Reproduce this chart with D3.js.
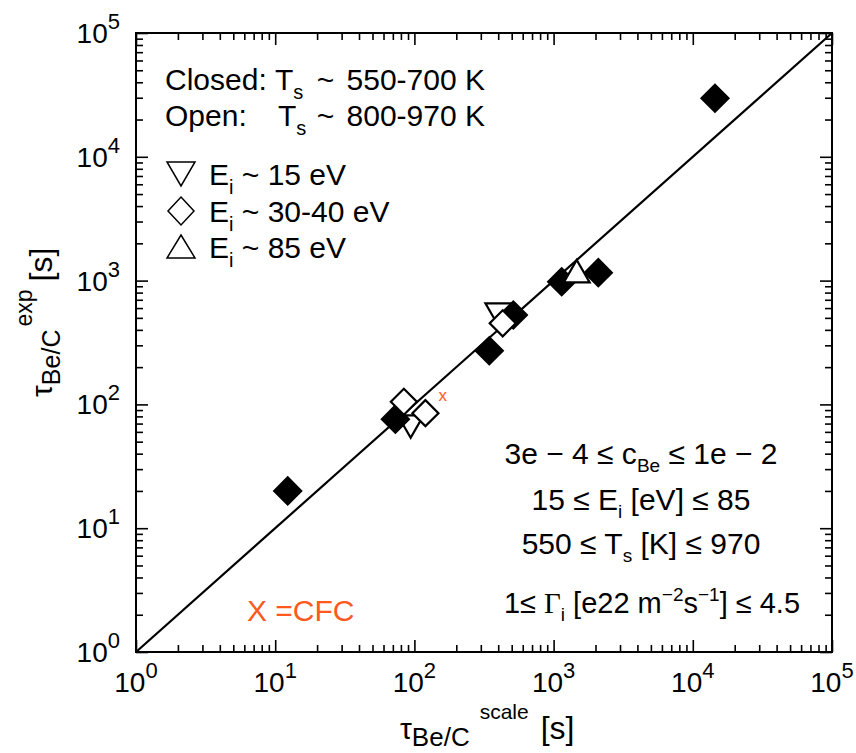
<!DOCTYPE html>
<html>
<head>
<meta charset="utf-8">
<script src="https://cdn.jsdelivr.net/npm/d3@7"></script>
<style>
  html, body { margin: 0; padding: 0; background: #fff; }
  svg { display: block; }
  text { font-family: "Liberation Sans", Arial, Helvetica, sans-serif; fill: #000; white-space: pre; }
</style>
</head>
<body>
<svg id="chart" width="856" height="753"></svg>
<script>
// Be/C mixed-layer formation time: scaling law vs experiment, [x = tau_scale (s), y = tau_exp (s)]
const closedDiamonds    = [[12.3, 20], [73, 76], [345, 271], [514, 527], [1143, 980], [2095, 1159], [14430, 29700]];
const openDiamonds      = [[84, 105], [120, 85], [431, 452]];
const openDownTriangles = [[94, 71], [401, 570]];
const openUpTriangles   = [[1466, 1110]];
const cfcMarks          = [[160, 117]];
const identityLine      = [[1, 1], [1e5, 1e5]];

const tickExponents = [0, 1, 2, 3, 4, 5];
const minorMultipliers = [2, 3, 4, 5, 6, 7, 8, 9];

const plot = { left: 136, right: 832, top: 33, bottom: 652 };
const ORANGE = "#ff5a1e";

const svg = d3.select("#chart");

const x = d3.scaleLog().domain([1, 1e5]).range([plot.left, plot.right]);
const y = d3.scaleLog().domain([1, 1e5]).range([plot.bottom, plot.top]);

const majorVals = tickExponents.map(e => Math.pow(10, e));
const minorVals = [];
tickExponents.slice(0, -1).forEach(e => minorMultipliers.forEach(m => minorVals.push(m * Math.pow(10, e))));

// rich text with sub/superscripts
function rich(sel, px, py, parts, opts) {
  opts = opts || {};
  const t = sel.append("text")
    .attr("x", px).attr("y", py)
    .attr("text-anchor", opts.anchor || "start")
    .attr("font-size", opts.size || 30);
  if (opts.fill) t.style("fill", opts.fill);
  if (opts.transform) t.attr("transform", opts.transform);
  let prev = 0;
  parts.forEach(p => {
    const shift = p.shift || 0;
    const ts = t.append("tspan").attr("dy", shift - prev).text(p.t);
    if (p.size) ts.attr("font-size", p.size);
    if (p.dx) ts.attr("dx", p.dx);
    if (p.x != null) ts.attr("x", p.x);
    if (p.family) ts.attr("font-family", p.family);
    prev = shift;
  });
  return t;
}

// ---- axes (inward ticks on all four sides) ----
function styleAxis(g) {
  g.select(".domain").remove();
  g.selectAll(".tick line").attr("stroke", "#000").attr("stroke-width", 1.6);
}
const axes = svg.append("g");
[
  [d3.axisBottom(x), `translate(0,${plot.bottom})`],
  [d3.axisTop(x), `translate(0,${plot.top})`],
  [d3.axisLeft(y), `translate(${plot.left},0)`],
  [d3.axisRight(y), `translate(${plot.right},0)`]
].forEach(([ax, tr]) => {
  axes.append("g").attr("transform", tr)
    .call(ax.tickValues(majorVals).tickSize(-12).tickSizeOuter(0).tickFormat(""))
    .call(styleAxis);
  axes.append("g").attr("transform", tr)
    .call(ax.tickValues(minorVals).tickSize(-7).tickSizeOuter(0).tickFormat(""))
    .call(styleAxis);
});

// frame
svg.append("rect")
  .attr("x", plot.left).attr("y", plot.top)
  .attr("width", plot.right - plot.left).attr("height", plot.bottom - plot.top)
  .attr("fill", "none").attr("stroke", "#000").attr("stroke-width", 2);

// tick labels 10^n
tickExponents.forEach(e => {
  const v = Math.pow(10, e);
  rich(svg, x(v), 692, [{ t: "10" }, { t: String(e), shift: -14, size: 22 }], { anchor: "middle", size: 28 });
  rich(svg, 120, y(v) + 10, [{ t: "10" }, { t: String(e), shift: -14, size: 22 }], { anchor: "end", size: 28 });
});

// axis titles
rich(svg, 400, 739, [
  { t: "\u03c4", size: 30 },
  { t: "Be/C", shift: 7, size: 26 },
  { t: "scale", shift: -20, size: 21, dx: 10 },
  { t: "[s]", shift: 0, size: 32, dx: 12 }
], { size: 30 });

rich(svg, 0, 0, [
  { t: "\u03c4", size: 30 },
  { t: "Be/C", shift: 8, size: 25 },
  { t: "exp", shift: -20, size: 23, dx: 3 },
  { t: "[s]", shift: 0, size: 32, dx: 8 }
], { size: 30, transform: "translate(52,397) rotate(-90)" });

// ---- marks ----
const marks = svg.append("g");

marks.append("path")
  .datum(identityLine)
  .attr("d", d3.line().x(d => x(d[0])).y(d => y(d[1])))
  .attr("fill", "none").attr("stroke", "#000").attr("stroke-width", 2.2);

const diamondSym = d3.symbol(d3.symbolSquare, 392);
const triSym = d3.symbol(d3.symbolTriangle, 290);

function drawSeries(data, sym, rot, fill, sw) {
  marks.append("g").selectAll("path").data(data).join("path")
    .attr("d", sym)
    .attr("transform", d => `translate(${x(d[0])},${y(d[1])}) rotate(${rot})`)
    .attr("fill", fill).attr("stroke", "#000").attr("stroke-width", sw)
    .attr("stroke-linejoin", "miter");
}
drawSeries(openDownTriangles, triSym, 180, "#fff", 2.2);
drawSeries(closedDiamonds, diamondSym, 45, "#000", 1.5);
drawSeries(openDiamonds, d3.symbol(d3.symbolSquare, 340), 45, "#fff", 2.2);
drawSeries(openUpTriangles, triSym, 0, "#fff", 2.2);

marks.selectAll(".cfc").data(cfcMarks).join("text")
  .attr("class", "cfc")
  .attr("x", d => x(d[0])).attr("y", d => y(d[1]) + 5)
  .attr("text-anchor", "middle").attr("font-size", 17)
  .style("fill", ORANGE).text("x");

// ---- annotations ----
rich(svg, 165, 90, [
  { t: "Closed: " }, { t: "T", x: 275 }, { t: "s", shift: 9, size: 20 },
  { t: " ~", shift: 0, dx: 5 }, { t: " 550-700 K", dx: 4 }
], { size: 30 });
rich(svg, 165, 126, [
  { t: "Open:" }, { t: "T", x: 278 }, { t: "s", shift: 9, size: 20 },
  { t: " ~", shift: 0, dx: 2 }, { t: " 800-970 K", dx: 4 }
], { size: 30 });

// legend symbols
const legend = svg.append("g").attr("fill", "none").attr("stroke", "#000").attr("stroke-width", 1.5);
legend.append("path").attr("d", "M167,162 L195,162 L181,186 Z");
legend.append("path").attr("d", "M181,197 L194,211 L181,225 L168,211 Z");
legend.append("path").attr("d", "M181,235 L195,258 L167,258 Z");

[["15 eV", 185], ["30-40 eV", 222], ["85 eV", 258]].forEach(([lbl, by]) => {
  rich(svg, 209, by, [{ t: "E" }, { t: "i", shift: 9, size: 20 }, { t: " ~ " + lbl, shift: 0 }], { size: 30 });
});

// parameter ranges
const cx = 641;
rich(svg, cx, 464, [
  { t: "3e \u2212 4 \u2264 c" }, { t: "Be", shift: 8, size: 19 }, { t: " \u2264 1e \u2212 2", shift: 0 }
], { anchor: "middle", size: 30 });
rich(svg, cx, 510, [
  { t: "15 \u2264 E" }, { t: "i", shift: 8, size: 19 }, { t: " [eV] \u2264 85", shift: 0 }
], { anchor: "middle", size: 30 });
rich(svg, cx, 554, [
  { t: "550 \u2264 T" }, { t: "s", shift: 8, size: 19 }, { t: " [K] \u2264 970", shift: 0 }
], { anchor: "middle", size: 30 });
rich(svg, 652, 613, [
  { t: "1\u2264 " }, { t: "\u0393", family: "Liberation Serif, serif" }, { t: "i", shift: 8, size: 19 },
  { t: " [e22 m", shift: 0 }, { t: "\u22122", shift: -12, size: 19 }, { t: "s", shift: 0 },
  { t: "\u22121", shift: -12, size: 19 }, { t: "] \u2264 4.5", shift: 0 }
], { anchor: "middle", size: 29 });

rich(svg, 247, 621, [{ t: "X =CFC" }], { size: 30, fill: ORANGE });
</script>
</body>
</html>
